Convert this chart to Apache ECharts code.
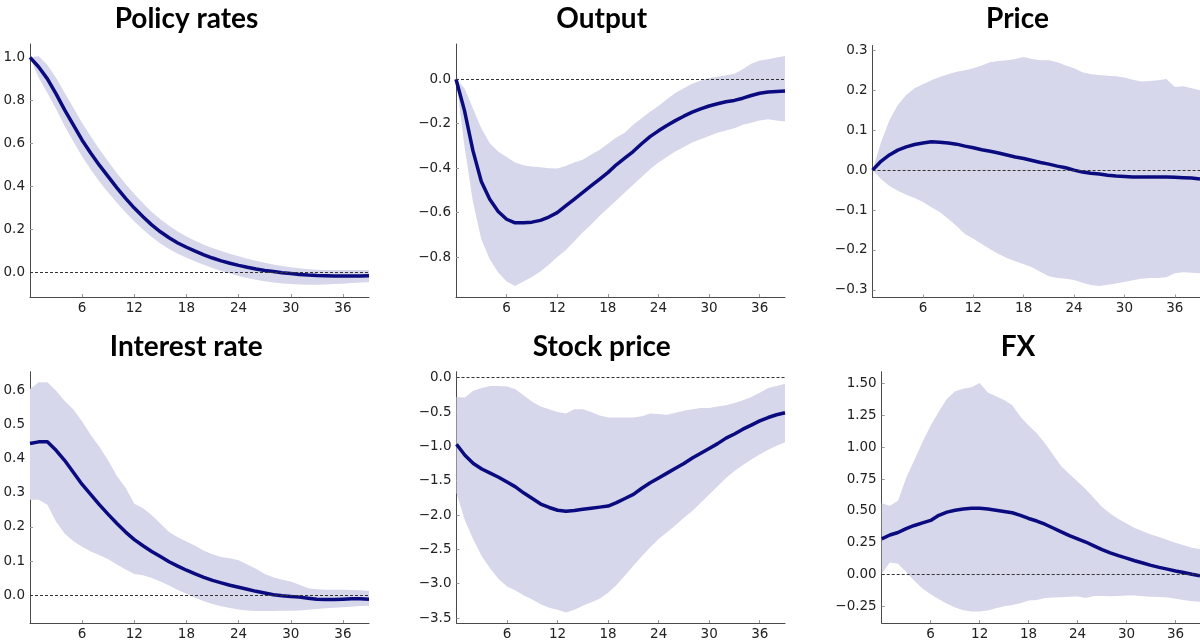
<!DOCTYPE html>
<html><head><meta charset="utf-8">
<script src="https://cdn.jsdelivr.net/npm/echarts@6/dist/echarts.min.js"></script>
<style>html,body{margin:0;padding:0;background:#fff}#c{width:1200px;height:641px}</style>
</head><body><div id="c"></div>
<script>
// ---------------- data ----------------
const horizons = [0,1,2,3,4,5,6,7,8,9,10,11,12,13,14,15,16,17,18,19,20,21,22,23,24,25,26,27,28,29,30,31,32,33,34,35,36,37,38,39];
const xTicks = [6,12,18,24,30,36];
const titles = ['Policy rates','Output','Price','Interest rate','Stock price','FX'];

const policyMid = [1.000,0.955,0.900,0.830,0.755,0.685,0.615,0.555,0.498,0.446,0.394,0.345,0.300,0.260,0.222,0.190,0.162,0.138,0.118,0.100,0.083,0.068,0.055,0.044,0.034,0.025,0.017,0.010,0.005,0.000,-0.004,-0.008,-0.011,-0.013,-0.014,-0.015,-0.015,-0.015,-0.015,-0.014];
const policyHi  = [1.000,1.005,0.965,0.905,0.835,0.765,0.695,0.632,0.572,0.516,0.462,0.412,0.365,0.322,0.282,0.248,0.218,0.191,0.168,0.148,0.130,0.115,0.101,0.088,0.076,0.065,0.055,0.046,0.038,0.031,0.025,0.020,0.016,0.013,0.012,0.012,0.012,0.012,0.012,0.012];
const policyLo  = [1.000,0.905,0.835,0.760,0.680,0.608,0.540,0.478,0.422,0.372,0.325,0.280,0.238,0.200,0.166,0.136,0.110,0.088,0.069,0.052,0.037,0.022,0.008,-0.004,-0.015,-0.025,-0.033,-0.040,-0.046,-0.050,-0.053,-0.055,-0.056,-0.056,-0.055,-0.053,-0.051,-0.048,-0.046,-0.044];
const policyTicks = [0.0,0.2,0.4,0.6,0.8,1.0];

const outputMid = [0,-0.14,-0.32,-0.46,-0.54,-0.595,-0.63,-0.646,-0.646,-0.643,-0.635,-0.62,-0.60,-0.57,-0.54,-0.51,-0.48,-0.45,-0.42,-0.385,-0.355,-0.325,-0.29,-0.258,-0.232,-0.208,-0.186,-0.166,-0.148,-0.133,-0.12,-0.11,-0.101,-0.095,-0.085,-0.073,-0.063,-0.057,-0.055,-0.053];
const outputHi  = [0,-0.04,-0.13,-0.22,-0.288,-0.325,-0.35,-0.375,-0.387,-0.393,-0.396,-0.40,-0.402,-0.39,-0.375,-0.362,-0.34,-0.318,-0.29,-0.262,-0.24,-0.205,-0.175,-0.146,-0.12,-0.09,-0.062,-0.04,-0.02,-0.005,0.005,0.012,0.018,0.025,0.045,0.07,0.085,0.09,0.098,0.105];
const outputLo  = [0,-0.30,-0.55,-0.72,-0.81,-0.87,-0.91,-0.93,-0.91,-0.89,-0.865,-0.835,-0.80,-0.77,-0.73,-0.69,-0.655,-0.615,-0.58,-0.545,-0.51,-0.475,-0.44,-0.405,-0.375,-0.35,-0.325,-0.305,-0.285,-0.27,-0.255,-0.24,-0.23,-0.22,-0.205,-0.195,-0.185,-0.18,-0.185,-0.19];
const outputTicks = [-0.8,-0.6,-0.4,-0.2,0.0];

const priceMid = [0,0.022,0.038,0.050,0.058,0.064,0.068,0.071,0.070,0.068,0.065,0.060,0.056,0.051,0.047,0.043,0.038,0.033,0.029,0.024,0.019,0.015,0.010,0.006,0.000,-0.005,-0.008,-0.010,-0.013,-0.015,-0.016,-0.017,-0.017,-0.017,-0.017,-0.017,-0.018,-0.019,-0.020,-0.022];
const priceHi  = [0,0.070,0.125,0.163,0.188,0.205,0.215,0.225,0.233,0.240,0.246,0.250,0.255,0.262,0.270,0.273,0.275,0.278,0.283,0.278,0.275,0.275,0.270,0.262,0.255,0.245,0.240,0.238,0.236,0.235,0.232,0.226,0.222,0.223,0.225,0.228,0.208,0.210,0.205,0.200];
const priceLo  = [0,-0.022,-0.040,-0.052,-0.062,-0.070,-0.080,-0.093,-0.105,-0.122,-0.140,-0.160,-0.172,-0.185,-0.198,-0.210,-0.220,-0.228,-0.236,-0.243,-0.255,-0.266,-0.270,-0.272,-0.275,-0.282,-0.288,-0.290,-0.287,-0.284,-0.280,-0.276,-0.272,-0.270,-0.270,-0.268,-0.258,-0.256,-0.257,-0.258];
const priceTicks = [-0.3,-0.2,-0.1,0.0,0.1,0.2,0.3];

const rateMid = [0.445,0.450,0.450,0.425,0.395,0.360,0.325,0.295,0.265,0.237,0.210,0.185,0.163,0.145,0.128,0.113,0.098,0.085,0.073,0.062,0.052,0.043,0.036,0.029,0.023,0.017,0.011,0.006,0.001,-0.002,-0.004,-0.006,-0.009,-0.012,-0.013,-0.013,-0.012,-0.011,-0.011,-0.012];
const rateHi  = [0.605,0.625,0.625,0.600,0.570,0.545,0.510,0.470,0.435,0.395,0.350,0.315,0.268,0.255,0.235,0.210,0.185,0.170,0.157,0.145,0.130,0.120,0.112,0.108,0.102,0.090,0.077,0.062,0.052,0.045,0.040,0.030,0.020,0.017,0.016,0.016,0.016,0.015,0.014,0.013];
const rateLo  = [0.280,0.280,0.265,0.215,0.180,0.158,0.142,0.128,0.117,0.105,0.090,0.075,0.062,0.058,0.050,0.040,0.028,0.015,0.004,-0.008,-0.018,-0.026,-0.033,-0.038,-0.042,-0.045,-0.047,-0.047,-0.047,-0.046,-0.046,-0.045,-0.043,-0.041,-0.039,-0.037,-0.036,-0.034,-0.032,-0.031];
const rateTicks = [0.0,0.1,0.2,0.3,0.4,0.5,0.6];

const stockMid = [-0.97,-1.13,-1.25,-1.33,-1.39,-1.45,-1.52,-1.59,-1.68,-1.76,-1.84,-1.89,-1.93,-1.945,-1.935,-1.915,-1.90,-1.885,-1.87,-1.82,-1.76,-1.70,-1.61,-1.53,-1.46,-1.39,-1.32,-1.25,-1.17,-1.10,-1.03,-0.96,-0.88,-0.82,-0.75,-0.69,-0.63,-0.58,-0.54,-0.51];
const stockHi  = [-0.28,-0.29,-0.19,-0.15,-0.12,-0.12,-0.13,-0.17,-0.26,-0.35,-0.42,-0.46,-0.50,-0.52,-0.46,-0.46,-0.50,-0.55,-0.58,-0.58,-0.58,-0.58,-0.56,-0.52,-0.53,-0.54,-0.51,-0.48,-0.46,-0.44,-0.44,-0.42,-0.40,-0.37,-0.33,-0.28,-0.22,-0.15,-0.12,-0.09];
const stockLo  = [-1.68,-2.08,-2.36,-2.60,-2.78,-2.93,-3.04,-3.10,-3.17,-3.23,-3.30,-3.35,-3.38,-3.42,-3.38,-3.32,-3.27,-3.22,-3.13,-3.02,-2.88,-2.74,-2.60,-2.47,-2.35,-2.25,-2.15,-2.04,-1.94,-1.82,-1.70,-1.58,-1.46,-1.36,-1.27,-1.19,-1.12,-1.05,-0.99,-0.94];
const stockTicks = [-3.5,-3.0,-2.5,-2.0,-1.5,-1.0,-0.5,0.0];

const fxMid = [0.28,0.31,0.33,0.36,0.385,0.405,0.425,0.465,0.49,0.505,0.515,0.52,0.52,0.515,0.505,0.495,0.485,0.465,0.44,0.42,0.395,0.365,0.335,0.305,0.28,0.255,0.225,0.195,0.17,0.148,0.128,0.108,0.09,0.072,0.056,0.042,0.028,0.015,0.002,-0.01];
const fxHi  = [0.56,0.54,0.58,0.76,0.90,1.04,1.17,1.28,1.38,1.44,1.46,1.47,1.505,1.43,1.40,1.37,1.33,1.24,1.17,1.11,1.03,0.94,0.85,0.79,0.73,0.67,0.60,0.53,0.48,0.435,0.40,0.365,0.34,0.315,0.295,0.27,0.25,0.23,0.21,0.20];
const fxLo  = [0.005,0.095,0.085,0.02,-0.05,-0.11,-0.155,-0.195,-0.23,-0.26,-0.28,-0.29,-0.29,-0.282,-0.265,-0.25,-0.24,-0.225,-0.205,-0.20,-0.185,-0.18,-0.178,-0.175,-0.172,-0.185,-0.168,-0.168,-0.17,-0.168,-0.165,-0.165,-0.17,-0.175,-0.177,-0.18,-0.19,-0.20,-0.21,-0.215];
const fxTicks = [-0.25,0.00,0.25,0.50,0.75,1.00,1.25,1.50];

// ---------------- layout ----------------
const panels = [
  {mid:policyMid, hi:policyHi, lo:policyLo, ticks:policyTicks, dec:1, grid:{left:30, top:44, width:339, height:253}, y:[-0.113,1.062], tx:186.5, ty:5},
  {mid:outputMid, hi:outputHi, lo:outputLo, ticks:outputTicks, dec:1, grid:{left:456, top:44, width:329, height:253}, y:[-0.98,0.159], tx:601.7, ty:5},
  {mid:priceMid,  hi:priceHi,  lo:priceLo,  ticks:priceTicks,  dec:1, grid:{left:872.6, top:45.5, width:329.4, height:252}, y:[-0.319,0.312], tx:1017.5, ty:5},
  {mid:rateMid,   hi:rateHi,   lo:rateLo,   ticks:rateTicks,   dec:1, grid:{left:30, top:371.7, width:339, height:252.3}, y:[-0.082,0.656], tx:186.3, ty:333},
  {mid:stockMid,  hi:stockHi,  lo:stockLo,  ticks:stockTicks,  dec:1, grid:{left:456.5, top:371.7, width:328.5, height:252.3}, y:[-3.572,0.087], tx:601.7, ty:333},
  {mid:fxMid,     hi:fxHi,     lo:fxLo,     ticks:fxTicks,     dec:2, grid:{left:881.7, top:371.7, width:320.7, height:252.3}, y:[-0.381,1.593], tx:1018, ty:333}
];

const BAND = '#d6d7eb', LINE = '#0b0b80', AXIS = '#4a4a4a', TXT = '#222';
const fmt = (v, d) => Number(v).toFixed(d).replace('-', '\u2212');

const option = {
  animation: false,
  backgroundColor: '#fff',
  title: [], grid: [], xAxis: [], yAxis: [], series: []
};

panels.forEach((p, i) => {
  option.title.push({
    text: titles[i], left: p.tx, top: p.ty, textAlign: 'center', padding: 0,
    textStyle: {fontFamily: 'Lato', fontWeight: 'bold', fontSize: 28, color: '#000'}
  });
  option.grid.push(Object.assign({containLabel: false}, p.grid));
  option.xAxis.push({
    gridIndex: i, type: 'value', min: 0, max: 39,
    splitLine: {show: false},
    axisLine: {show: true, onZero: false, lineStyle: {color: AXIS, width: 1}},
    axisTick: {show: true, inside: true, length: 3, customValues: xTicks, lineStyle: {color: '#999'}},
    axisLabel: {customValues: xTicks, fontFamily: 'DejaVu Sans', fontSize: 13.5, color: TXT, margin: 4}
  });
  option.yAxis.push({
    gridIndex: i, type: 'value', min: p.y[0], max: p.y[1],
    splitLine: {show: false},
    axisLine: {show: true, onZero: false, lineStyle: {color: AXIS, width: 1}},
    axisTick: {show: true, inside: true, length: 3, customValues: p.ticks, lineStyle: {color: '#999'}},
    axisLabel: {customValues: p.ticks, fontFamily: 'DejaVu Sans', fontSize: 13.5, color: TXT, margin: 5,
      formatter: v => fmt(v, p.dec)}
  });
  // confidence band: one polygon through the library's coordinate system
  option.series.push({
    type: 'custom', xAxisIndex: i, yAxisIndex: i, clip: true, silent: true, z: 1,
    data: horizons.map((h, k) => [h, p.lo[k], p.hi[k]]),
    encode: {x: 0, y: [1, 2]},
    renderItem: (params, api) => {
      if (params.dataIndex !== 0) return null;
      const upper = horizons.map((h, k) => api.coord([h, p.hi[k]]));
      const lower = horizons.map((h, k) => api.coord([h, p.lo[k]])).reverse();
      return {type: 'polygon', shape: {points: upper.concat(lower)}, style: {fill: BAND}};
    }
  });
  option.series.push({
    type: 'line', xAxisIndex: i, yAxisIndex: i,
    data: horizons.map((h, k) => [h, p.mid[k]]), symbol: 'none', silent: true,
    lineStyle: {color: LINE, width: 3.5}, z: 3,
    markLine: {silent: true, symbol: 'none', label: {show: false},
      lineStyle: {color: '#333', type: [3, 2], width: 1}, data: [{yAxis: 0}]}
  });
});

const chart = echarts.init(document.getElementById('c'), null, {renderer: 'canvas'});
chart.setOption(option);
</script>
</body></html>
